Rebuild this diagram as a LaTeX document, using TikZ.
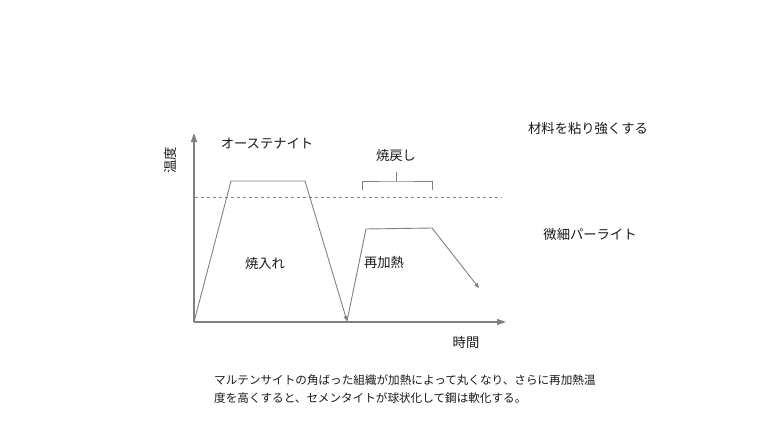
\documentclass[tikz,border=0pt]{standalone}
\usepackage{fontspec}
\setmainfont{Noto Sans CJK JP}
\usepackage{xcolor}
\usetikzlibrary{arrows.meta, positioning}

\definecolor{linegray}{HTML}{808080}

\begin{document}
\begin{tikzpicture}[x=1pt,y=1pt,font=\fontsize{13.3}{15}\selectfont]
  \tikzstyle{axis}=[draw=linegray, line width=1.4pt, -{Triangle[length=9pt,width=6pt]}]
  \tikzstyle{curve}=[draw=linegray, line width=0.9pt, line join=round]
  \tikzstyle{tip}=[-{Triangle[length=5pt,width=4pt]}]
  \tikzstyle{label}=[inner sep=1pt, text=black!90]

  \useasboundingbox (0,0) rectangle (768,432);

  % axes
  \coordinate (o)    at (194,110);
  \coordinate (ytop) at (194,299);
  \coordinate (xend) at (506,110);
  \draw[axis] (o) -- (ytop);
  \draw[axis] (o) -- (xend);

  % heat treatment curve
  \coordinate (a1) at (231,251);
  \coordinate (a2) at (305,251);
  \coordinate (a3) at (347,111);
  \coordinate (b1) at (366,203);
  \coordinate (b2) at (432,204);
  \coordinate (b3) at (479,144);
  \draw[curve, tip] (o) -- (a1) -- (a2) -- (a3);
  \draw[curve, tip] (a3) -- (b1) -- (b2) -- (b3);

  % transformation temperature
  \coordinate (d1) at (195,235);
  \coordinate (d2) at (502,235);
  \draw[linegray, dashed, line width=0.6pt] (d1) -- (d2);

  % bracket over the tempering stage
  \coordinate (k1) at (362,242);
  \coordinate (k2) at (432,242);
  \coordinate (km) at (396,251);
  \coordinate (kt) at (396,260);
  \draw[linegray, line width=0.7pt] (k1) |- (km) -| (k2);
  \draw[linegray, line width=0.7pt] (km) -- (kt);

  % labels
  \node[label] (yl)   at (170,272) [rotate=90] {温度};
  \node[label] (xl)   at (466,90)              {時間};
  \node[label] (aust) at (267,288)             {オーステナイト};
  \node[label] (temp) [above=9pt of kt]        {焼戻し};
  \node[label] (quen) at (265,169)             {焼入れ};
  \node[label] (reh)  at (384,170)             {再加熱};
  \node[label] (tough) at (588,304)            {材料を粘り強くする};
  \node[label] (pearl) at (590,198)            {微細パーライト};

  \node[label, anchor=north west, align=left, font=\fontsize{11.6}{18.5}\selectfont]
    (note) at (213,59)
    {マルテンサイトの角ばった組織が加熱によって丸くなり、さらに再加熱温\\
     度を高くすると、セメンタイトが球状化して鋼は軟化する。};
\end{tikzpicture}
\end{document}
